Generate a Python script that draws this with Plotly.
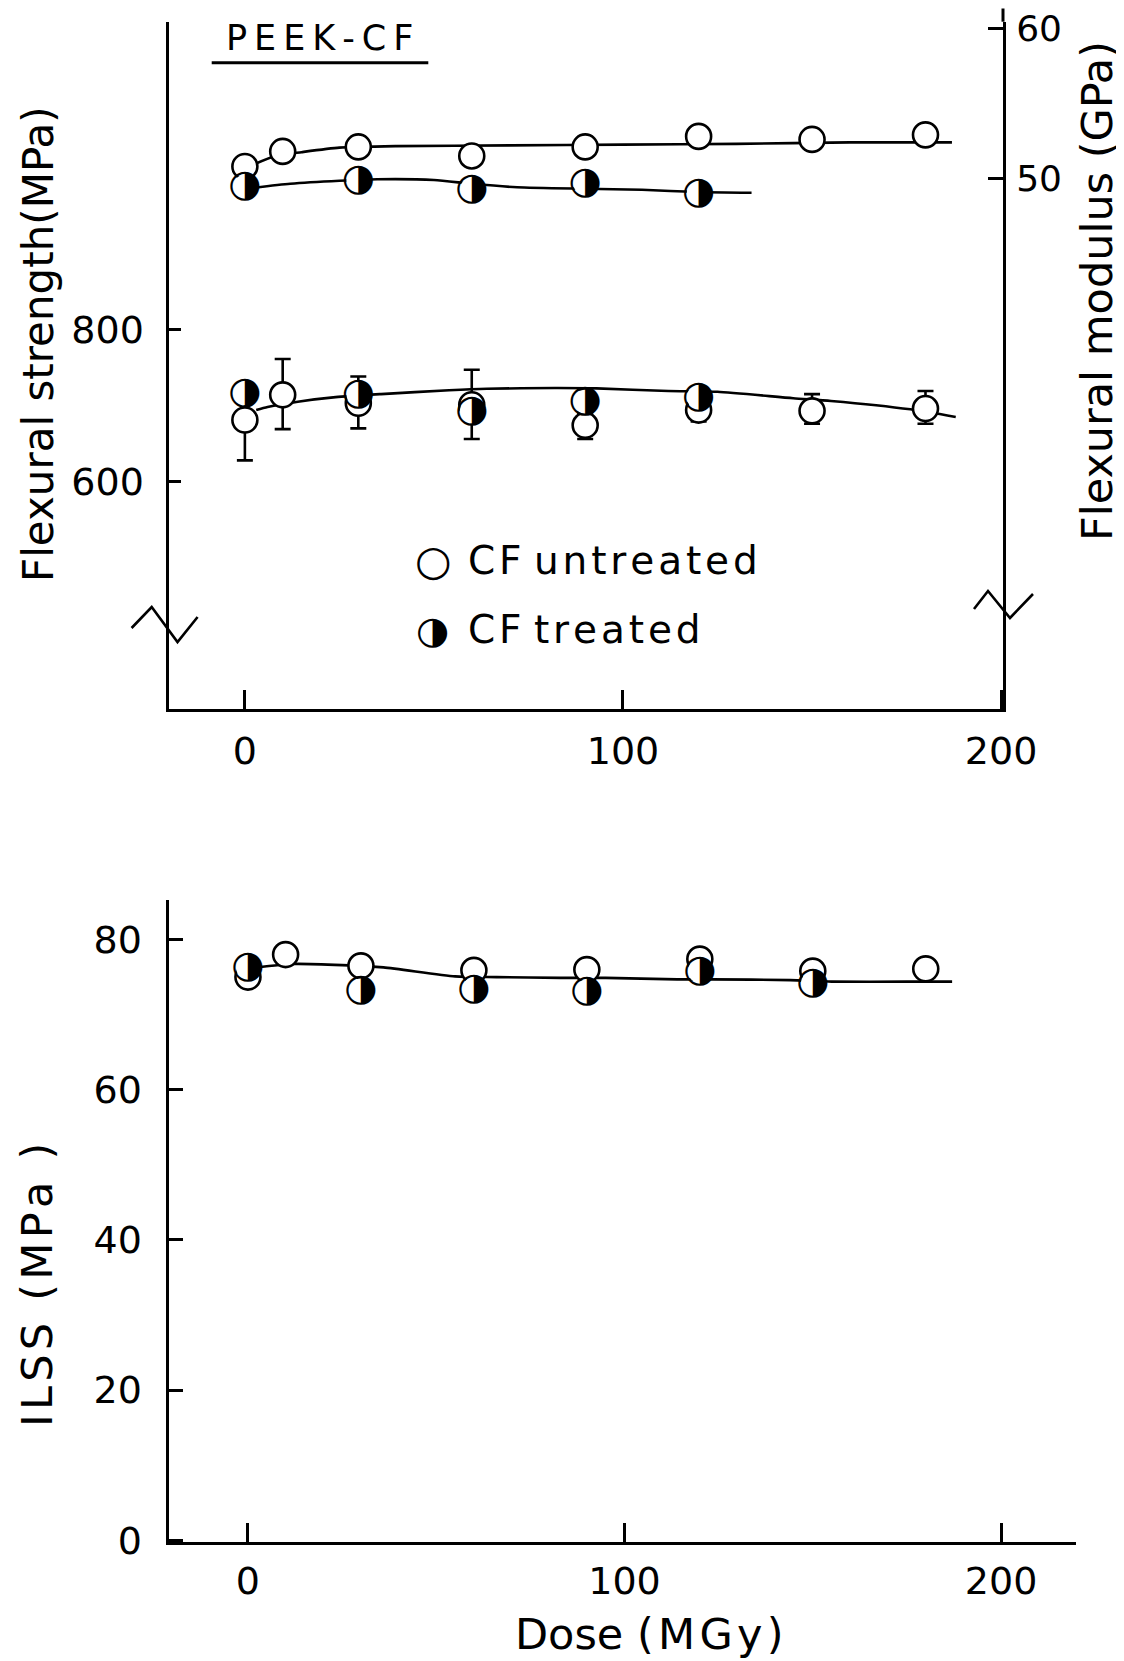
import plotly.graph_objects as go

# ---------------- data ----------------
dose_untreated = [0, 10, 30, 60, 90, 120, 150, 180]
dose_treated_flex = [0, 30, 60, 90, 120]
dose_treated_ilss = [0, 30, 60, 90, 120, 150]

strength_untreated = [681, 714, 703, 701, 674, 694, 693, 696]
strength_untreated_err_plus = [30, 47, 35, 46, 18, 15, 22, 23]
strength_untreated_err_minus = [53, 45, 33, 45, 18, 15, 17, 20]
strength_treated = [716, 715, 692, 705, 711]
strength_treated_err = [0, 0, 0, 16, 0]

modulus_untreated = [50.8, 51.8, 52.1, 51.5, 52.1, 52.8, 52.6, 52.9]
modulus_treated = [49.45, 49.9, 49.25, 49.7, 49.0]

ilss_untreated = [75.0, 78.0, 76.5, 75.9, 76.0, 77.4, 75.8, 76.1]
ilss_treated = [76.3, 73.2, 73.4, 73.1, 75.8, 74.1]

# hand-drawn trend curves
strength_fit_dose = [3, 6, 14, 24, 36, 54, 64, 82, 93, 112, 125, 145, 155, 176, 188]
strength_fit = [694, 698, 705, 711, 715, 720, 722, 723, 722.5, 719, 718, 709.5, 706, 695, 685]
modulus_untr_fit_dose = [2, 8, 15, 25, 40, 70, 100, 130, 160, 187]
modulus_untr_fit = [50.9, 51.5, 51.75, 52.05, 52.15, 52.2, 52.25, 52.3, 52.4, 52.4]
modulus_tr_fit_dose = [1, 12, 25, 35, 50, 60, 72, 90, 105, 120, 134]
modulus_tr_fit = [49.35, 49.65, 49.85, 49.95, 49.9, 49.65, 49.42, 49.32, 49.25, 49.1, 49.05]
ilss_fit_dose = [2, 12, 25, 36, 55, 66, 83, 95, 114, 123, 144, 155, 175, 187]
ilss_fit = [76.3, 76.75, 76.6, 76.3, 75.1, 75.0, 74.9, 74.9, 74.7, 74.7, 74.6, 74.4, 74.4, 74.4]

x_ticks = [0, 100, 200]
strength_ticks = [600, 800]
modulus_ticks = [50, 60]
ilss_ticks = [0, 20, 40, 60, 80]

# ---------------- geometry ----------------
W, H = 1124, 1661
OFF = 8  # page body margin in the browser
FONT = "DejaVu Sans"
HALF = "\u25d1"
HS = "\u200a"  # hair space for letter spacing


def spaced(s):
    return HS.join(s)


def px(x):
    return (x - OFF) / W


def py(y):
    return 1 - (y - OFF) / H


fig = go.Figure()


def fit_line(x, y, xa, ya):
    fig.add_trace(go.Scatter(x=x, y=y, xaxis=xa, yaxis=ya, mode="lines",
                             line=dict(color="black", width=2.6, shape="spline", smoothing=0.6),
                             hoverinfo="skip", showlegend=False))


def open_pts(x, y, xa, ya, err=None):
    fig.add_trace(go.Scatter(x=x, y=y, xaxis=xa, yaxis=ya, mode="markers",
                             marker=dict(symbol="circle", size=25, color="white",
                                         line=dict(color="black", width=2.6)),
                             error_y=err, showlegend=False))


def half_pts(x, y, xa, ya, err=None):
    fig.add_trace(go.Scatter(x=x, y=y, xaxis=xa, yaxis=ya, mode="markers",
                             marker=dict(symbol="circle", size=24, color="white",
                                         line=dict(width=0)),
                             error_y=err, showlegend=False))
    fig.add_trace(go.Scatter(x=x, y=y, xaxis=xa, yaxis=ya, mode="text",
                             text=[HALF] * len(x), textposition="middle center",
                             textfont=dict(family=FONT, size=38, color="black"),
                             showlegend=False))


# top panel: strength (left axis y) and modulus (right axis y3)
fit_line(strength_fit_dose, strength_fit, "x", "y")
fit_line(modulus_untr_fit_dose, modulus_untr_fit, "x", "y3")
fit_line(modulus_tr_fit_dose, modulus_tr_fit, "x", "y3")

open_pts(dose_untreated, strength_untreated, "x", "y",
         dict(type="data", array=strength_untreated_err_plus,
              arrayminus=strength_untreated_err_minus, color="black", thickness=2.6, width=8))
half_pts(dose_treated_flex, strength_treated, "x", "y",
         dict(type="data", array=strength_treated_err, color="black", thickness=2.6, width=8))
open_pts(dose_untreated, modulus_untreated, "x", "y3")
half_pts(dose_treated_flex, modulus_treated, "x", "y3")

# bottom panel: ILSS
fit_line(ilss_fit_dose, ilss_fit, "x2", "y2")
open_pts(dose_untreated, ilss_untreated, "x2", "y2")
half_pts(dose_treated_ilss, ilss_treated, "x2", "y2")

axis_common = dict(showline=True, linecolor="black", linewidth=3, showgrid=False,
                   zeroline=False, ticks="inside", tickcolor="black", tickwidth=2.6,
                   tickfont=dict(family=FONT, size=38, color="black"), tickmode="array",
                   automargin=False, ticklabeloverflow="allow")

top_dom = [py(709), py(21.7)]
bot_dom = [py(1541.7), py(900)]

fig.update_layout(
    width=W, height=H,
    margin=dict(l=0, r=0, t=0, b=0, pad=0, autoexpand=False),
    paper_bgcolor="white", plot_bgcolor="rgba(0,0,0,0)",
    showlegend=False,
    xaxis=dict(axis_common, domain=[px(168.5), px(1003)], range=[-20.2, 200.5],
               anchor="y", tickvals=x_ticks, ticklen=19, ticklabelstandoff=6),
    yaxis=dict(axis_common, domain=top_dom, range=[301.7, 1203.7], anchor="x",
               tickvals=strength_ticks, ticklen=12, ticklabelstandoff=14),
    yaxis3=dict(axis_common, overlaying="y", side="right", anchor="x",
                range=[14.75, 60.42], tickvals=modulus_ticks, ticklen=15,
                ticklabelstandoff=3, tickfont=dict(family=FONT, size=36, color="black")),
    xaxis2=dict(axis_common, domain=[px(168.5), px(1076)], range=[-21.1, 219.9],
                anchor="y2", tickvals=x_ticks, ticklen=19, ticklabelstandoff=4),
    yaxis2=dict(axis_common, domain=bot_dom, range=[-0.2, 85.27], anchor="x2",
                tickvals=ilss_ticks, ticklen=14, ticklabelstandoff=16),
)

ann = []


def text(x, y, s, size, angle=0, xanchor="center"):
    ann.append(dict(x=px(x), y=py(y), xref="paper", yref="paper", text=s,
                    showarrow=False, textangle=angle, xanchor=xanchor, yanchor="middle",
                    font=dict(family=FONT, size=size, color="black")))


text(38, 344, "Flexural strength(MPa)", 42, -90)
text(1097, 291, "Flexural modulus (GPa)", 43, -90)
text(37, 1285, spaced("ILSS (MPa )"), 43, -90)
text(649, 1634, "Dose " + spaced("(MGy)"), 43)
text(319, 38, "P\u2009E\u2009E\u2009K\u2009-\u2009C\u2009F", 35)
text(433, 560, "\u25cb", 42)
text(466, 560, spaced("CF") + "\u00a0" + spaced("untreated"), 39, xanchor="left")
text(432, 629.5, HALF, 38)
text(466, 629.5, spaced("CF") + "\u00a0" + spaced("treated"), 39, xanchor="left")
fig.update_layout(annotations=ann)

shapes = []


def seg(points, width=3):
    path = "M " + " L ".join(f"{px(a):.5f},{py(b):.5f}" for a, b in points)
    shapes.append(dict(type="path", path=path, xref="paper", yref="paper",
                       line=dict(color="black", width=width)))


seg([(211.7, 62.7), (428.3, 62.7)])  # title underline
seg([(131.6, 628), (151.7, 607), (177.5, 642), (197.6, 617)], 2.6)  # left break
seg([(974, 609), (988, 591), (1010, 618), (1033, 594)], 2.6)  # right break
seg([(1003, 21.7), (1003, 8.5)], 3)  # right axis extends higher
fig.update_layout(shapes=shapes)

fig.write_html("out.html")
